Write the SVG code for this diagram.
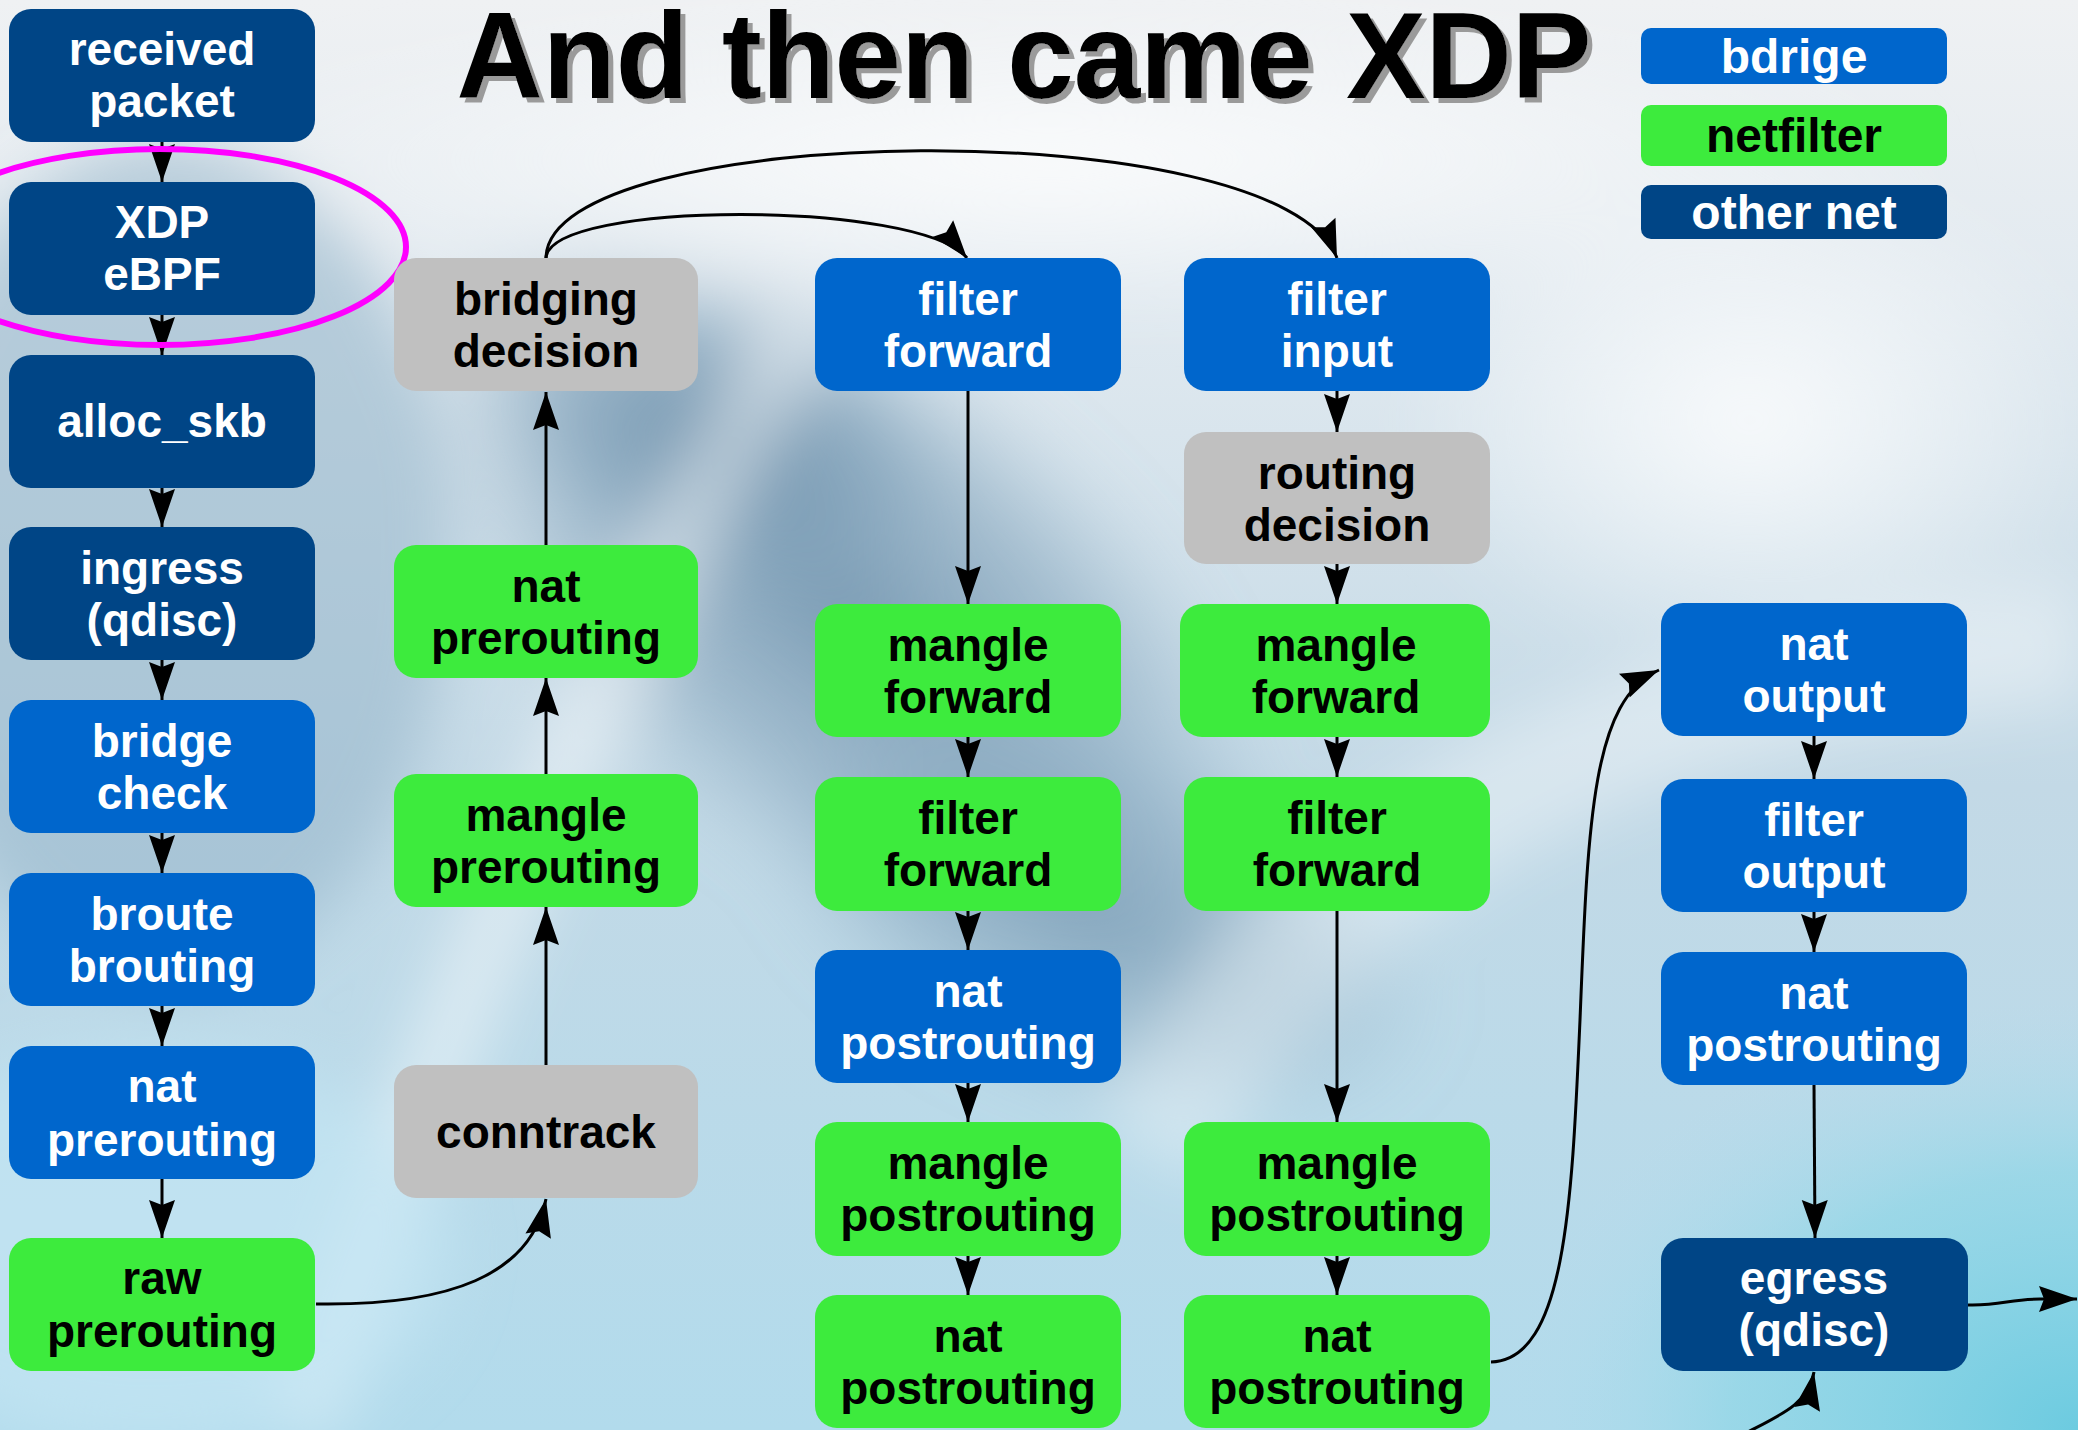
<svg xmlns="http://www.w3.org/2000/svg" width="2078" height="1430" viewBox="0 0 2078 1430">
  <defs>
    <linearGradient id="bgGrad" x1="0" y1="0" x2="0" y2="1">
      <stop offset="0" stop-color="#eff1f3"/>
      <stop offset="0.2" stop-color="#e2eaf0"/>
      <stop offset="0.55" stop-color="#c3d9e6"/>
      <stop offset="1" stop-color="#b2dbec"/>
    </linearGradient>
    <radialGradient id="swirlDark" cx="0.5" cy="0.5" r="0.5">
      <stop offset="0" stop-color="#6a8ea9" stop-opacity="0.85"/>
      <stop offset="0.6" stop-color="#7b9db6" stop-opacity="0.5"/>
      <stop offset="1" stop-color="#8fb0c6" stop-opacity="0"/>
    </radialGradient>
    <radialGradient id="cornerCyan" cx="1" cy="1" r="1">
      <stop offset="0" stop-color="#6ccbe0"/>
      <stop offset="0.6" stop-color="#8fd6e6" stop-opacity="0.7"/>
      <stop offset="1" stop-color="#b4dced" stop-opacity="0"/>
    </radialGradient>
    <radialGradient id="glow" cx="0.5" cy="0.5" r="0.5">
      <stop offset="0" stop-color="#ffffff" stop-opacity="0.8"/>
      <stop offset="1" stop-color="#ffffff" stop-opacity="0"/>
    </radialGradient>
    <filter id="soft" x="-20%" y="-20%" width="140%" height="140%">
      <feGaussianBlur stdDeviation="30"/>
    </filter>
    <filter id="shadow" x="-5%" y="-20%" width="110%" height="140%">
      <feOffset in="SourceAlpha" dx="5" dy="5" result="off"/>
      <feFlood flood-color="#9a9a9a"/>
      <feComposite operator="in" in2="off" result="sh"/>
      <feMerge><feMergeNode in="sh"/><feMergeNode in="SourceGraphic"/></feMerge>
    </filter>
    <marker id="arr" markerUnits="userSpaceOnUse" markerWidth="44" markerHeight="34" viewBox="-40 -17 44 34" refX="0" refY="0" orient="auto">
      <path d="M0,0 L-38,-13 L-33,0 L-38,13 Z" fill="#000"/>
    </marker>
    <style>
      .node rect { rx: 22px; ry: 22px; }
      .dk rect { fill: #004586; }
      .bl rect { fill: #0066cc; }
      .gr rect { fill: #3deb3d; }
      .gy rect { fill: #c0c0c0; }
      .node text { font-family: "Liberation Sans", Arial, sans-serif; font-weight: bold; font-size: 46px; text-anchor: middle; }
      .dk text, .bl text { fill: #ffffff; }
      .gr text, .gy text { fill: #000000; }
      .leg rect { rx: 10px; ry: 10px; }
      .leg text { font-size: 48px; }
      .title { font-family: "Liberation Sans", Arial, sans-serif; font-weight: bold; font-size: 122px; text-anchor: middle; }
      .edges path, .edges line { fill: none; stroke: #000; stroke-width: 3; marker-end: url(#arr); }
    </style>
  </defs>

  <!-- background -->
  <rect x="0" y="0" width="2078" height="1430" fill="url(#bgGrad)"/>
  <g filter="url(#soft)">
    <ellipse cx="170" cy="560" rx="280" ry="420" fill="#98b7cc" opacity="0.6"/>
    <ellipse cx="840" cy="600" rx="520" ry="270" transform="rotate(38 840 600)" fill="url(#swirlDark)"/>
    <ellipse cx="720" cy="440" rx="260" ry="150" transform="rotate(20 720 440)" fill="url(#swirlDark)"/>
    <ellipse cx="1100" cy="920" rx="360" ry="190" transform="rotate(20 1100 920)" fill="url(#swirlDark)" opacity="0.75"/>
    <path d="M300,1430 C440,1050 560,720 800,330" stroke="#ffffff" stroke-width="70" fill="none" opacity="0.45"/>
    <path d="M1150,1150 C1300,900 1500,700 2078,640" stroke="#ffffff" stroke-width="120" fill="none" opacity="0.35"/>
    <ellipse cx="1750" cy="420" rx="360" ry="260" fill="url(#glow)"/>
    <ellipse cx="1050" cy="160" rx="900" ry="160" fill="url(#glow)"/>
    <ellipse cx="150" cy="1250" rx="300" ry="200" fill="#c3e6f4" opacity="0.7"/>
  </g>
  <rect x="1500" y="1000" width="578" height="430" fill="url(#cornerCyan)"/>

  <!-- title -->
  <text class="title" x="1024" y="98" fill="#000000" filter="url(#shadow)" textLength="1135" lengthAdjust="spacingAndGlyphs">And then came XDP</text>

  <!-- legend -->
  <g id="legend-bridge" class="node leg bl"><rect x="1641" y="28" width="306" height="56"/><text x="1794" y="73">bdrige</text></g>
  <g id="legend-netfilter" class="node leg gr"><rect x="1641" y="105" width="306" height="61"/><text x="1794" y="152">netfilter</text></g>
  <g id="legend-othernet" class="node leg dk"><rect x="1641" y="185" width="306" height="54"/><text x="1794" y="229">other net</text></g>

  <!-- connectors -->
  <g class="edges">
    <!-- receive path -->
    <line x1="162" y1="142" x2="162" y2="182"/>
    <line x1="162" y1="315" x2="162" y2="355"/>
    <line x1="162" y1="488" x2="162" y2="527"/>
    <line x1="162" y1="660" x2="162" y2="700"/>
    <line x1="162" y1="833" x2="162" y2="873"/>
    <line x1="162" y1="1006" x2="162" y2="1046"/>
    <line x1="162" y1="1179" x2="162" y2="1238"/>
    <path d="M316,1304 C450,1306 530,1275 546,1199"/>
    <!-- prerouting, upwards -->
    <line x1="546" y1="1065" x2="546" y2="907"/>
    <line x1="546" y1="774" x2="546" y2="678"/>
    <line x1="546" y1="545" x2="546" y2="392"/>
    <!-- bridging decision branches -->
    <path d="M546,258 C550,200 920,200 967,258"/>
    <path d="M546,258 C548,120 1280,110 1337,258"/>
    <!-- forward column -->
    <line x1="968" y1="391" x2="968" y2="604"/>
    <line x1="968" y1="737" x2="968" y2="777"/>
    <line x1="968" y1="911" x2="968" y2="950"/>
    <line x1="968" y1="1083" x2="968" y2="1122"/>
    <line x1="968" y1="1256" x2="968" y2="1295"/>
    <!-- input column -->
    <line x1="1337" y1="391" x2="1337" y2="432"/>
    <line x1="1337" y1="564" x2="1337" y2="604"/>
    <line x1="1337" y1="737" x2="1337" y2="777"/>
    <line x1="1337" y1="911" x2="1337" y2="1122"/>
    <line x1="1337" y1="1256" x2="1337" y2="1295"/>
    <path d="M1491,1362 C1566,1360 1572,1200 1580,1020 C1588,820 1592,700 1659,670"/>
    <!-- output column -->
    <line x1="1814" y1="736" x2="1814" y2="779"/>
    <line x1="1814" y1="912" x2="1814" y2="952"/>
    <line x1="1814" y1="1085" x2="1815" y2="1238"/>
    <path d="M1742,1435 C1780,1415 1808,1405 1814,1372"/>
    <path d="M1968,1305 C2000,1306 2010,1299 2040,1299 L2077,1299"/>
  </g>

  <!-- XDP highlight -->
  <ellipse cx="160" cy="247" rx="246" ry="98" fill="none" stroke="#ff00ff" stroke-width="6"/>

  <!-- column 1 -->
  <g id="n-received" class="node dk"><rect x="9" y="9" width="306" height="133"/><text x="162" y="65">received</text><text x="162" y="117">packet</text></g>
  <g id="n-xdp" class="node dk"><rect x="9" y="182" width="306" height="133"/><text x="162" y="238">XDP</text><text x="162" y="290">eBPF</text></g>
  <g id="n-alloc" class="node dk"><rect x="9" y="355" width="306" height="133"/><text x="162" y="437">alloc_skb</text></g>
  <g id="n-ingress" class="node dk"><rect x="9" y="527" width="306" height="133"/><text x="162" y="584">ingress</text><text x="162" y="636">(qdisc)</text></g>
  <g id="n-bridgecheck" class="node bl"><rect x="9" y="700" width="306" height="133"/><text x="162" y="757">bridge</text><text x="162" y="809">check</text></g>
  <g id="n-broute" class="node bl"><rect x="9" y="873" width="306" height="133"/><text x="162" y="930">broute</text><text x="162" y="982">brouting</text></g>
  <g id="n-br-nat-pre" class="node bl"><rect x="9" y="1046" width="306" height="133"/><text x="162" y="1102">nat</text><text x="162" y="1156">prerouting</text></g>
  <g id="n-raw-pre" class="node gr"><rect x="9" y="1238" width="306" height="133"/><text x="162" y="1294">raw</text><text x="162" y="1347">prerouting</text></g>

  <!-- column 2 -->
  <g id="n-bridging" class="node gy"><rect x="394" y="258" width="304" height="133"/><text x="546" y="315">bridging</text><text x="546" y="367">decision</text></g>
  <g id="n-nat-pre" class="node gr"><rect x="394" y="545" width="304" height="133"/><text x="546" y="602">nat</text><text x="546" y="654">prerouting</text></g>
  <g id="n-mangle-pre" class="node gr"><rect x="394" y="774" width="304" height="133"/><text x="546" y="831">mangle</text><text x="546" y="883">prerouting</text></g>
  <g id="n-conntrack" class="node gy"><rect x="394" y="1065" width="304" height="133"/><text x="546" y="1148">conntrack</text></g>

  <!-- column 3 -->
  <g id="n-br-filter-fwd" class="node bl"><rect x="815" y="258" width="306" height="133"/><text x="968" y="315">filter</text><text x="968" y="367">forward</text></g>
  <g id="n-mangle-fwd" class="node gr"><rect x="815" y="604" width="306" height="133"/><text x="968" y="661">mangle</text><text x="968" y="713">forward</text></g>
  <g id="n-filter-fwd" class="node gr"><rect x="815" y="777" width="306" height="134"/><text x="968" y="834">filter</text><text x="968" y="886">forward</text></g>
  <g id="n-br-nat-post" class="node bl"><rect x="815" y="950" width="306" height="133"/><text x="968" y="1007">nat</text><text x="968" y="1059">postrouting</text></g>
  <g id="n-mangle-post" class="node gr"><rect x="815" y="1122" width="306" height="134"/><text x="968" y="1179">mangle</text><text x="968" y="1231">postrouting</text></g>
  <g id="n-nat-post" class="node gr"><rect x="815" y="1295" width="306" height="133"/><text x="968" y="1352">nat</text><text x="968" y="1404">postrouting</text></g>

  <!-- column 4 -->
  <g id="n-br-filter-in" class="node bl"><rect x="1184" y="258" width="306" height="133"/><text x="1337" y="315">filter</text><text x="1337" y="367">input</text></g>
  <g id="n-routing" class="node gy"><rect x="1184" y="432" width="306" height="132"/><text x="1337" y="489">routing</text><text x="1337" y="541">decision</text></g>
  <g id="n-mangle-fwd2" class="node gr"><rect x="1180" y="604" width="310" height="133"/><text x="1336" y="661">mangle</text><text x="1336" y="713">forward</text></g>
  <g id="n-filter-fwd2" class="node gr"><rect x="1184" y="777" width="306" height="134"/><text x="1337" y="834">filter</text><text x="1337" y="886">forward</text></g>
  <g id="n-mangle-post2" class="node gr"><rect x="1184" y="1122" width="306" height="134"/><text x="1337" y="1179">mangle</text><text x="1337" y="1231">postrouting</text></g>
  <g id="n-nat-post2" class="node gr"><rect x="1184" y="1295" width="306" height="133"/><text x="1337" y="1352">nat</text><text x="1337" y="1404">postrouting</text></g>

  <!-- column 5 -->
  <g id="n-br-nat-out" class="node bl"><rect x="1661" y="603" width="306" height="133"/><text x="1814" y="660">nat</text><text x="1814" y="712">output</text></g>
  <g id="n-br-filter-out" class="node bl"><rect x="1661" y="779" width="306" height="133"/><text x="1814" y="836">filter</text><text x="1814" y="888">output</text></g>
  <g id="n-br-nat-post2" class="node bl"><rect x="1661" y="952" width="306" height="133"/><text x="1814" y="1009">nat</text><text x="1814" y="1061">postrouting</text></g>
  <g id="n-egress" class="node dk"><rect x="1661" y="1238" width="307" height="133"/><text x="1814" y="1294">egress</text><text x="1814" y="1346">(qdisc)</text></g>
</svg>
